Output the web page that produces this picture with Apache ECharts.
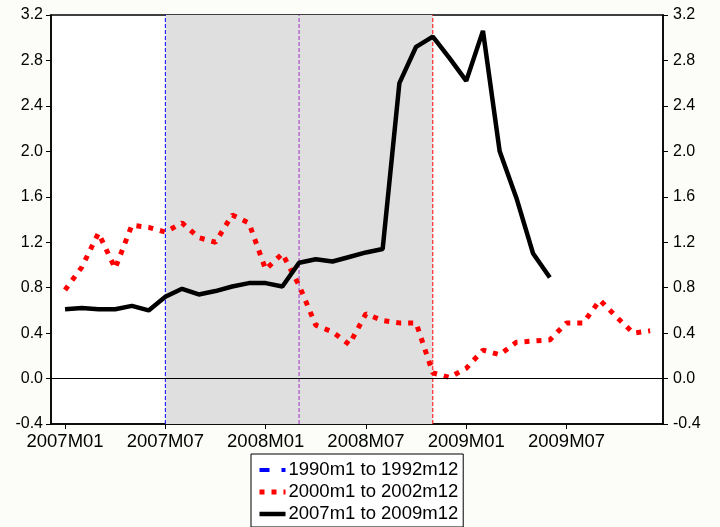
<!DOCTYPE html>
<html>
<head>
<meta charset="utf-8">
<script src="https://cdn.jsdelivr.net/npm/echarts@6/dist/echarts.min.js"></script>
<style>
html, body { margin: 0; padding: 0; background: #fcfcf8; }
#chart { width: 720px; height: 527px; }
</style>
</head>
<body>
<div id="chart"></div>
<script>
// Month index 0 = 2007M01 ... 35 = 2009M12
const tickLabels = ['2007M01', '2007M07', '2008M01', '2008M07', '2009M01', '2009M07'];
const tickPositions = [0, 6, 12, 18, 24, 30];
const yRange = [-0.4, 3.2];

const seriesNames = ['1990m1 to 1992m12', '2000m1 to 2002m12', '2007m1 to 2009m12'];
const values1990 = [];
const values2000 = [0.78, 0.98, 1.28, 0.97, 1.35, 1.33, 1.29, 1.37, 1.24, 1.20, 1.44, 1.37,
                    0.96, 1.10, 0.82, 0.47, 0.41, 0.30, 0.57, 0.51, 0.49, 0.49, 0.05, 0.01,
                    0.09, 0.25, 0.21, 0.32, 0.33, 0.34, 0.49, 0.49, 0.69, 0.54, 0.40, 0.42];
const values2007 = [0.61, 0.62, 0.61, 0.61, 0.64, 0.60, 0.72, 0.79, 0.74, 0.77, 0.81, 0.84,
                    0.84, 0.81, 1.02, 1.05, 1.03, 1.07, 1.11, 1.14, 2.60, 2.92, 3.01, 2.82,
                    2.62, 3.06, 2.00, 1.59, 1.10, 0.89];

// Shaded span and vertical reference months
const shadeSpan = [6, 22];
const refMonths = [6, 14, 22];
const refColors = ['#0000ff', '#a030c8', '#ff0000'];

const FONT = "'Liberation Sans', Arial, Helvetica, sans-serif";
const toPairs = arr => arr.map((v, i) => [i, v]);

const styles = [
  { color: '#0000ff', width: 4, type: [10, 12] },
  { color: '#ff0000', width: 5, type: [5, 7] },
  { color: '#000000', width: 4.5, type: 'solid' }
];

const chart = echarts.init(document.getElementById('chart'));

const yAxisBase = {
  type: 'value',
  min: yRange[0],
  max: yRange[1],
  interval: 0.4,
  splitLine: { show: false },
  axisLine: { show: true, onZero: false, lineStyle: { color: '#000', width: 1.5 } },
  axisTick: { show: true, length: 5, lineStyle: { color: '#000', width: 1 } },
  axisLabel: {
    color: '#000', fontFamily: FONT, fontSize: 16,
    formatter: v => v.toFixed(1)
  }
};

// Dashed vertical reference lines spanning the full value range
const refSeries = refMonths.map((m, k) => ({
  name: 'ref-' + m,
  type: 'line',
  data: [[m, yRange[0]], [m, yRange[1]]],
  symbol: 'none',
  silent: true,
  z: 2,
  lineStyle: { color: refColors[k], width: 1, type: [4, 2] }
}));

chart.setOption({
  animation: false,
  backgroundColor: '#fcfcf8',
  grid: {
    left: 51, right: 57, top: 15, bottom: 103,
    show: true, backgroundColor: '#ffffff',
    borderColor: '#000', borderWidth: 1.5
  },
  legend: {
    orient: 'vertical',
    left: 251, top: 454,
    padding: [6, 5, 3, 6],
    itemGap: 2,
    itemWidth: 26,
    itemHeight: 14,
    borderColor: '#000',
    borderWidth: 1,
    backgroundColor: '#ffffff',
    selectedMode: false,
    itemStyle: { color: 'transparent', borderColor: 'transparent', borderWidth: 0, opacity: 0 },
    textStyle: { color: '#000', fontFamily: FONT, fontSize: 18.5, lineHeight: 20, padding: [0, 0, 0, -2] },
    data: seriesNames.map((n, k) => ({
      name: n,
      itemStyle: { opacity: 0 },
      lineStyle: { color: styles[k].color, width: styles[k].width, type: styles[k].type, cap: 'butt' }
    }))
  },
  xAxis: {
    type: 'value',
    min: -0.84,
    max: 35.77,
    splitLine: { show: false },
    axisLine: { show: true, onZero: false, lineStyle: { color: '#000', width: 1.5 } },
    axisTick: { show: true, length: 5, customValues: tickPositions, lineStyle: { color: '#000', width: 1 } },
    axisLabel: {
      color: '#000', fontFamily: FONT, fontSize: 18.5, margin: 8,
      customValues: tickPositions,
      formatter: v => tickLabels[tickPositions.indexOf(v)]
    }
  },
  yAxis: [
    Object.assign({}, yAxisBase, { position: 'left' }),
    Object.assign({}, yAxisBase, { position: 'right', axisLabel: Object.assign({}, yAxisBase.axisLabel, { margin: 10 }) })
  ],
  series: [
    {
      name: seriesNames[0],
      type: 'line',
      data: toPairs(values1990),
      symbol: 'none',
      silent: true,
      z: 1,
      lineStyle: styles[0],
      itemStyle: { color: styles[0].color },
      markArea: {
        silent: true,
        itemStyle: { color: '#dfdfdf' },
        data: [[{ xAxis: shadeSpan[0] }, { xAxis: shadeSpan[1] }]]
      },
      markLine: {
        silent: true,
        symbol: ['none', 'none'],
        label: { show: false },
        lineStyle: { color: '#000000', width: 1, type: 'solid' },
        data: [{ yAxis: 0 }]
      }
    },
    ...refSeries,
    {
      name: seriesNames[1],
      type: 'line',
      data: toPairs(values2000),
      symbol: 'none',
      silent: true,
      z: 3,
      lineStyle: Object.assign({ cap: 'butt' }, styles[1]),
      itemStyle: { color: styles[1].color }
    },
    {
      name: seriesNames[2],
      type: 'line',
      data: toPairs(values2007),
      symbol: 'none',
      silent: true,
      z: 4,
      lineStyle: styles[2],
      itemStyle: { color: styles[2].color }
    }
  ]
});
</script>
</body>
</html>
